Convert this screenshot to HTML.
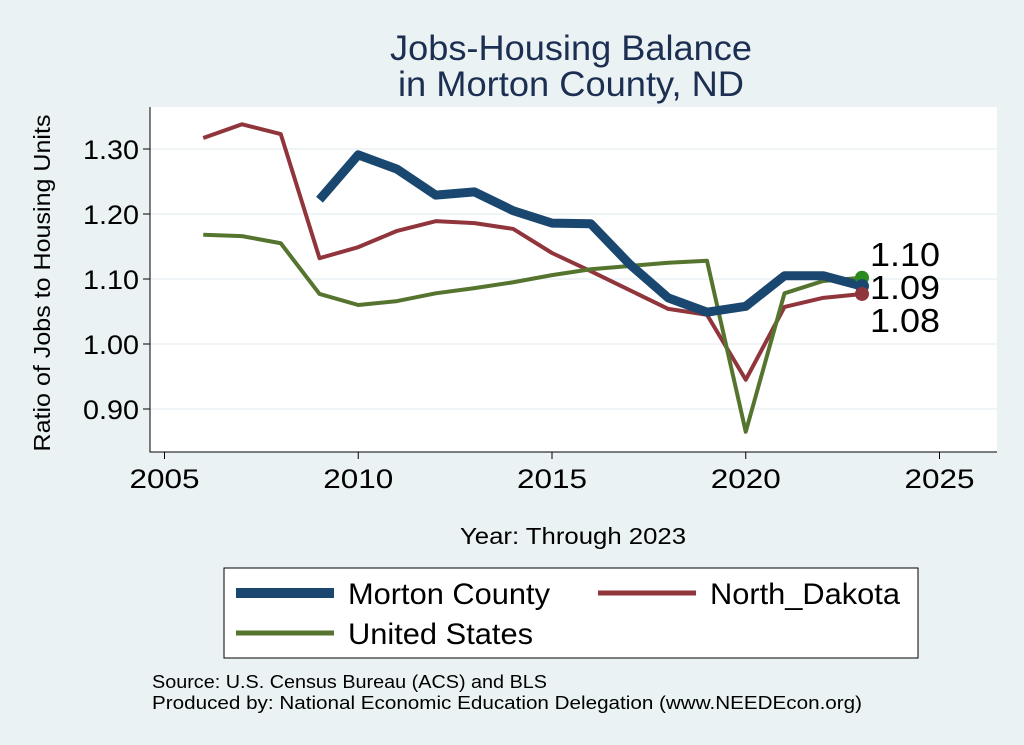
<!DOCTYPE html>
<html><head><meta charset="utf-8"><style>
body{margin:0;background:#eaf2f3;}
svg{display:block;font-family:"Liberation Sans",sans-serif;}
</style></head><body>
<svg id="chart" width="1024" height="745">
<rect x="0" y="0" width="1024" height="745" fill="#eaf2f3"/>
<text x="571" y="60" font-size="35" fill="#1c2e52" text-anchor="middle" textLength="362" lengthAdjust="spacingAndGlyphs">Jobs-Housing Balance</text>
<text x="571" y="96" font-size="35" fill="#1c2e52" text-anchor="middle" textLength="346" lengthAdjust="spacingAndGlyphs">in Morton County, ND</text>
<rect x="150" y="107" width="847" height="345" fill="#fff"/>
<g id="grid"></g><g id="axes"></g><g id="series"></g>
<text transform="translate(50,283) rotate(-90)" font-size="23" text-anchor="middle" fill="#000" textLength="337" lengthAdjust="spacingAndGlyphs">Ratio of Jobs to Housing Units</text>
<text x="573" y="544" font-size="23" text-anchor="middle" fill="#000" textLength="226" lengthAdjust="spacingAndGlyphs">Year: Through 2023</text>
<g>
<rect x="224" y="568" width="694" height="90" fill="#fff" stroke="#000" stroke-width="1"/>
<line x1="236" y1="593" x2="334" y2="593" stroke="#1a476f" stroke-width="10"/>
<text x="348" y="604" font-size="30" textLength="202" lengthAdjust="spacingAndGlyphs">Morton County</text>
<line x1="598" y1="593" x2="696" y2="593" stroke="#90353b" stroke-width="5"/>
<text x="710" y="604" font-size="30" textLength="190" lengthAdjust="spacingAndGlyphs">North_Dakota</text>
<line x1="236" y1="633" x2="334" y2="633" stroke="#55752f" stroke-width="5"/>
<text x="348" y="644" font-size="30" textLength="185" lengthAdjust="spacingAndGlyphs">United States</text>
</g>
<text x="152" y="688" font-size="18" textLength="395" lengthAdjust="spacingAndGlyphs">Source: U.S. Census Bureau (ACS) and BLS</text>
<text x="152" y="709" font-size="18" textLength="710" lengthAdjust="spacingAndGlyphs">Produced by: National Economic Education Delegation (www.NEEDEcon.org)</text>
</svg>
<script>
const yearsMorton=[2009,2010,2011,2012,2013,2014,2015,2016,2017,2018,2019,2020,2021,2022,2023];
const morton=[1.222,1.291,1.269,1.229,1.234,1.205,1.186,1.185,1.123,1.071,1.049,1.058,1.105,1.105,1.089];
const yearsState=[2006,2007,2008,2009,2010,2011,2012,2013,2014,2015,2016,2017,2018,2019,2020,2021,2022,2023];
const northDakota=[1.317,1.338,1.323,1.132,1.149,1.174,1.189,1.186,1.177,1.140,1.112,1.083,1.054,1.045,0.945,1.057,1.071,1.077];
const unitedStates=[1.168,1.166,1.155,1.077,1.060,1.066,1.078,1.086,1.095,1.106,1.115,1.120,1.125,1.128,0.865,1.078,1.097,1.102];
const xTicks=[2005,2010,2015,2020,2025];
const yTicks=[0.90,1.00,1.10,1.20,1.30];
const NS="http://www.w3.org/2000/svg";
const xS=v=>164.5+(v-2005)*38.75;
const yS=v=>344-(v-1.0)*650;
function mk(tag,attrs,parent){const e=document.createElementNS(NS,tag);for(const k in attrs)e.setAttribute(k,attrs[k]);parent.appendChild(e);return e;}
const grid=document.getElementById('grid'),axes=document.getElementById('axes'),series=document.getElementById('series');
yTicks.forEach(t=>{
 const l=mk('line',{x1:150,x2:997,y1:yS(t),y2:yS(t),stroke:'#eaf2f3','stroke-width':1.5},grid);
 
 
 const k=mk('line',{x1:143,x2:150,y1:yS(t),y2:yS(t),stroke:'#000'},axes);
 
 
 const tx=mk('text',{x:139,y:yS(t)+10,'font-size':27,'text-anchor':'end',textLength:56,lengthAdjust:'spacingAndGlyphs'},axes);
 tx.textContent=t.toFixed(2);
 
 
});
xTicks.forEach(t=>{
 const k=mk('line',{x1:xS(t),x2:xS(t),y1:452,y2:459,stroke:'#000'},axes);
 
 
 const tx=mk('text',{x:xS(t),y:488,'font-size':27,'text-anchor':'middle',textLength:70,lengthAdjust:'spacingAndGlyphs'},axes);
 tx.textContent=t;
 
 
});
const ax=mk('path',{d:'M150,107 V452 H997',fill:'none',stroke:'#000','stroke-width':1},axes);


function line(xs,ys,color,w,name){
 const p=mk('polyline',{points:xs.map((x,i)=>xS(x)+','+yS(ys[i])).join(' '),fill:'none',stroke:color,'stroke-width':w,'stroke-linejoin':'round'},series);
 
 
}
line(yearsState,northDakota,'#90353b',4,'north-dakota-line');
line(yearsState,unitedStates,'#55752f',4,'united-states-line');
line(yearsMorton,morton,'#1a476f',9,'morton-county-line');
const ends=[[unitedStates,'#2a8a1f','us-end'],[morton,'#1a476f','morton-end'],[northDakota,'#90353b','nd-end']];
ends.forEach(([arr,c,nm])=>{
 const v=arr[arr.length-1];
 const d=mk('circle',{cx:xS(2023),cy:yS(v),r:7,fill:c},series);
 
 
});
const labs=[[unitedStates,266],[morton,299],[northDakota,332]];
labs.forEach(([arr,base])=>{
 const v=arr[arr.length-1];
 const t=mk('text',{x:870,y:base,'font-size':33,textLength:70,lengthAdjust:'spacingAndGlyphs'},series);
 t.textContent=v.toFixed(2);
 
 
});
</script>
</body></html>
